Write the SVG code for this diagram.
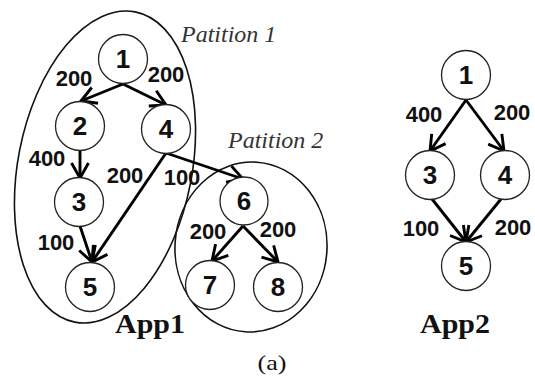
<svg xmlns="http://www.w3.org/2000/svg" width="535" height="377" viewBox="0 0 535 377">
<style>
.node circle{fill:#fff;stroke:#222;stroke-width:1.3}
.node text{font-family:"Liberation Sans",Arial,sans-serif;font-weight:bold;font-size:26px;text-anchor:middle;fill:#111}
.part{fill:none;stroke:#111;stroke-width:1.6}
.edge{stroke:#000;stroke-width:2.9;fill:none;marker-end:url(#arr)}
.lbl{font-family:"Liberation Sans",Arial,sans-serif;font-weight:bold;font-size:22px;text-anchor:middle;fill:#111}
.ptxt{font-family:"Liberation Serif","Times New Roman",serif;font-style:italic;font-size:24px;fill:#333}
.app{font-family:"Liberation Serif","Times New Roman",serif;font-weight:bold;font-size:27px;text-anchor:middle;fill:#111}
.cap{font-family:"Liberation Serif","Times New Roman",serif;font-size:21px;text-anchor:middle;fill:#111}
</style>
<defs>
<marker id="arr" markerUnits="userSpaceOnUse" markerWidth="22" markerHeight="22" viewBox="-18 -11 22 22" refX="0" refY="0" orient="auto">
<path d="M-15,-8.5 L0,0 L-15,8.5" fill="none" stroke="#000" stroke-width="2.9" stroke-linejoin="miter"/>
</marker>
</defs>
<g id="partitions">
<ellipse id="partition1" class="part" cx="105" cy="167" rx="87" ry="158" transform="rotate(11 105 167)"/>
<ellipse id="partition2" class="part" cx="251" cy="247" rx="76" ry="85" transform="rotate(4 251 247)"/>
<text class="ptxt" x="181" y="42">Patition 1</text>
<text class="ptxt" x="228" y="148">Patition 2</text>
</g>
<g id="connectors">
<line class="edge" x1="123" y1="84" x2="81" y2="101"/>
<line class="edge" x1="123" y1="84" x2="166" y2="105"/>
<line class="edge" x1="80" y1="150" x2="80" y2="178"/>
<line class="edge" x1="166" y1="153" x2="243" y2="179"/>
<line class="edge" x1="166" y1="153" x2="92" y2="262"/>
<line class="edge" x1="80" y1="226" x2="92" y2="262"/>
<line class="edge" x1="243" y1="226" x2="212" y2="261"/>
<line class="edge" x1="243" y1="226" x2="278" y2="262"/>
<line class="edge" x1="466" y1="100" x2="430" y2="151"/>
<line class="edge" x1="466" y1="100" x2="504" y2="151"/>
<line class="edge" x1="432" y1="199" x2="466" y2="242"/>
<line class="edge" x1="501" y1="199" x2="466" y2="242"/>
<text class="lbl" x="74" y="86">200</text>
<text class="lbl" x="166" y="82">200</text>
<text class="lbl" x="47" y="166">400</text>
<text class="lbl" x="125" y="183">200</text>
<text class="lbl" x="182" y="185">100</text>
<text class="lbl" x="56" y="250">100</text>
<text class="lbl" x="208" y="239">200</text>
<text class="lbl" x="278" y="237">200</text>
<text class="lbl" x="424" y="122">400</text>
<text class="lbl" x="512" y="120">200</text>
<text class="lbl" x="421" y="236">100</text>
<text class="lbl" x="513" y="235">200</text>
</g>
<g id="a1n1" class="node"><circle cx="123" cy="59" r="24.5"/><text x="123" y="68">1</text></g>
<g id="a1n2" class="node"><circle cx="80" cy="126" r="24.5"/><text x="80" y="135">2</text></g>
<g id="a1n4" class="node"><circle cx="166" cy="129" r="24.5"/><text x="166" y="138">4</text></g>
<g id="a1n3" class="node"><circle cx="79" cy="202" r="24.5"/><text x="79" y="211">3</text></g>
<g id="a1n5" class="node"><circle cx="90" cy="287" r="24.5"/><text x="90" y="296">5</text></g>
<g id="a1n6" class="node"><circle cx="244" cy="201" r="24"/><text x="244" y="210">6</text></g>
<g id="a1n7" class="node"><circle cx="210" cy="285" r="24.5"/><text x="210" y="294">7</text></g>
<g id="a1n8" class="node"><circle cx="278" cy="287" r="24.5"/><text x="278" y="296">8</text></g>
<g id="a2n1" class="node"><circle cx="466" cy="75" r="24.5"/><text x="466" y="84">1</text></g>
<g id="a2n3" class="node"><circle cx="430" cy="175" r="24.5"/><text x="430" y="184">3</text></g>
<g id="a2n4" class="node"><circle cx="505" cy="175" r="24.5"/><text x="505" y="184">4</text></g>
<g id="a2n5" class="node"><circle cx="466" cy="266" r="24.5"/><text x="466" y="275">5</text></g>
<g id="labels">
<text class="app" x="150" y="333" textLength="70" lengthAdjust="spacingAndGlyphs">App1</text>
<text class="app" x="455" y="333" textLength="70" lengthAdjust="spacingAndGlyphs">App2</text>
<text class="cap" x="272" y="370" textLength="29" lengthAdjust="spacingAndGlyphs">(a)</text>
</g>
</svg>
